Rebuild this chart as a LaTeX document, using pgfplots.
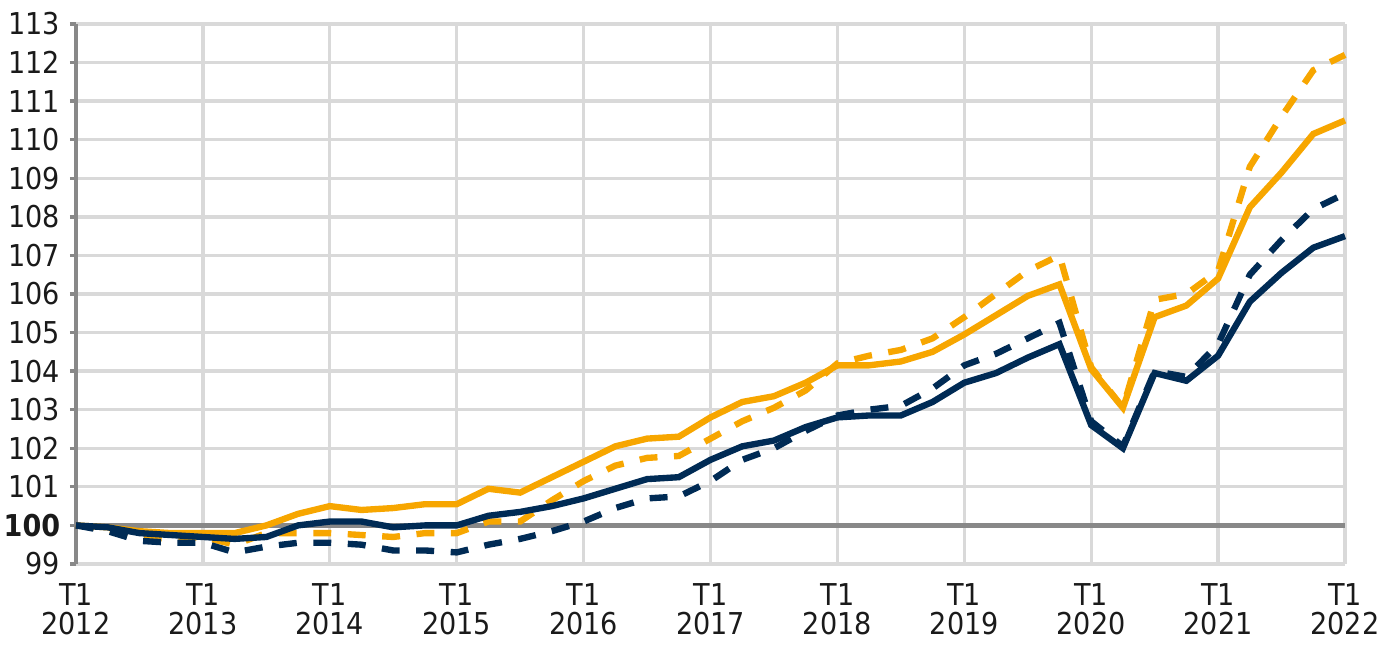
\documentclass[border=0pt]{standalone}
\usepackage{pgfplots}
\pgfplotsset{compat=1.18}
\usepackage{pgfplotstable}
\usepackage{fontspec}
\setmainfont{DejaVu Sans Condensed}

\definecolor{orangeline}{HTML}{F7A600}
\definecolor{navyline}{HTML}{002B55}
\definecolor{gridgray}{HTML}{D9D9D9}
\definecolor{axisgray}{HTML}{888888}
\definecolor{labeltext}{HTML}{1A1A1A}

% quarter index (0 = T1 2012), orange solid, orange dashed, navy solid, navy dashed
\pgfplotstableread{
q  os      od      ns      nd
0  100.00  100.00  100.00  100.00
1  99.95   99.90   99.95   99.85
2  99.85   99.70   99.80   99.60
3  99.80   99.65   99.75   99.55
4  99.80   99.70   99.70   99.55
5  99.80   99.50   99.65   99.30
6  100.00  99.80   99.70   99.45
7  100.30  99.80   100.00  99.55
8  100.50  99.80   100.10  99.55
9  100.40  99.75   100.10  99.50
10 100.45  99.70   99.95   99.35
11 100.55  99.80   100.00  99.35
12 100.55  99.80   100.00  99.30
13 100.95  100.10  100.25  99.50
14 100.85  100.10  100.35  99.65
15 101.25  100.65  100.50  99.85
16 101.65  101.15  100.70  100.10
17 102.05  101.55  100.95  100.45
18 102.25  101.75  101.20  100.70
19 102.30  101.80  101.25  100.75
20 102.80  102.25  101.70  101.15
21 103.20  102.70  102.05  101.70
22 103.35  103.05  102.20  102.00
23 103.70  103.50  102.55  102.45
24 104.15  104.20  102.80  102.85
25 104.15  104.40  102.85  103.00
26 104.25  104.55  102.85  103.10
27 104.50  104.85  103.20  103.55
28 104.95  105.40  103.70  104.15
29 105.45  106.00  103.95  104.45
30 105.95  106.60  104.35  104.85
31 106.25  107.00  104.70  105.25
32 104.05  104.10  102.60  102.70
33 103.05  103.05  102.00  102.05
34 105.40  105.85  103.95  104.00
35 105.70  106.00  103.75  103.85
36 106.40  106.60  104.40  104.70
37 108.25  109.30  105.80  106.50
38 109.15  110.60  106.55  107.40
39 110.15  111.80  107.20  108.20
40 110.50  112.20  107.50  108.60
}\series

\begin{document}
\begin{tikzpicture}
\begin{axis}[
    name=ax,
    scale only axis,
    width=459.8pt, height=195.65pt,
    xmin=0, xmax=40, ymin=99, ymax=113,
    clip=false,
    axis line style={draw=none},
    grid=major,
    grid style={line width=1.2pt, color=gridgray},
    xtick={0,4,...,40},
    xticklabels={{T1\\2012},{T1\\2013},{T1\\2014},{T1\\2015},{T1\\2016},{T1\\2017},{T1\\2018},{T1\\2019},{T1\\2020},{T1\\2021},{T1\\2022}},
    ytick={99,100,...,113},
    yticklabels={99,\textbf{100},101,102,103,104,105,106,107,108,109,110,111,112,113},
    ytick pos=left,
    tick align=outside,
    major tick length=2.2pt,
    ytick style={color=axisgray, line width=1.2pt},
    xtick style={draw=none},
    ticklabel style={font=\fontsize{10.9pt}{12pt}\selectfont, text=labeltext},
    xticklabel style={align=center, yshift=-3.8pt, inner sep=1pt, font=\fontsize{10.9pt}{10.5pt}\selectfont},
]
\draw[line width=1.2pt, axisgray] (rel axis cs:0,0) -- (rel axis cs:0,1);
\draw[line width=1.8pt, gridgray] (rel axis cs:1,0) -- (rel axis cs:1,1);
\addplot[axisgray, line width=2pt, no marks] coordinates {(0,100) (40,100)};
\addplot[orangeline, line width=2.3pt, no marks, dash pattern=on 6.5pt off 6pt] table[x=q, y=od] {\series};
\addplot[orangeline, line width=2.3pt, no marks] table[x=q, y=os] {\series};
\addplot[navyline, line width=2.3pt, no marks, dash pattern=on 6.5pt off 6pt] table[x=q, y=nd] {\series};
\addplot[navyline, line width=2.3pt, no marks] table[x=q, y=ns] {\series};
\end{axis}
\pgfresetboundingbox
\path[use as bounding box] ([xshift=-27.54pt,yshift=-29.7pt]ax.south west) rectangle ([xshift=12.68pt,yshift=8.7pt]ax.north east);
\end{tikzpicture}
\end{document}
